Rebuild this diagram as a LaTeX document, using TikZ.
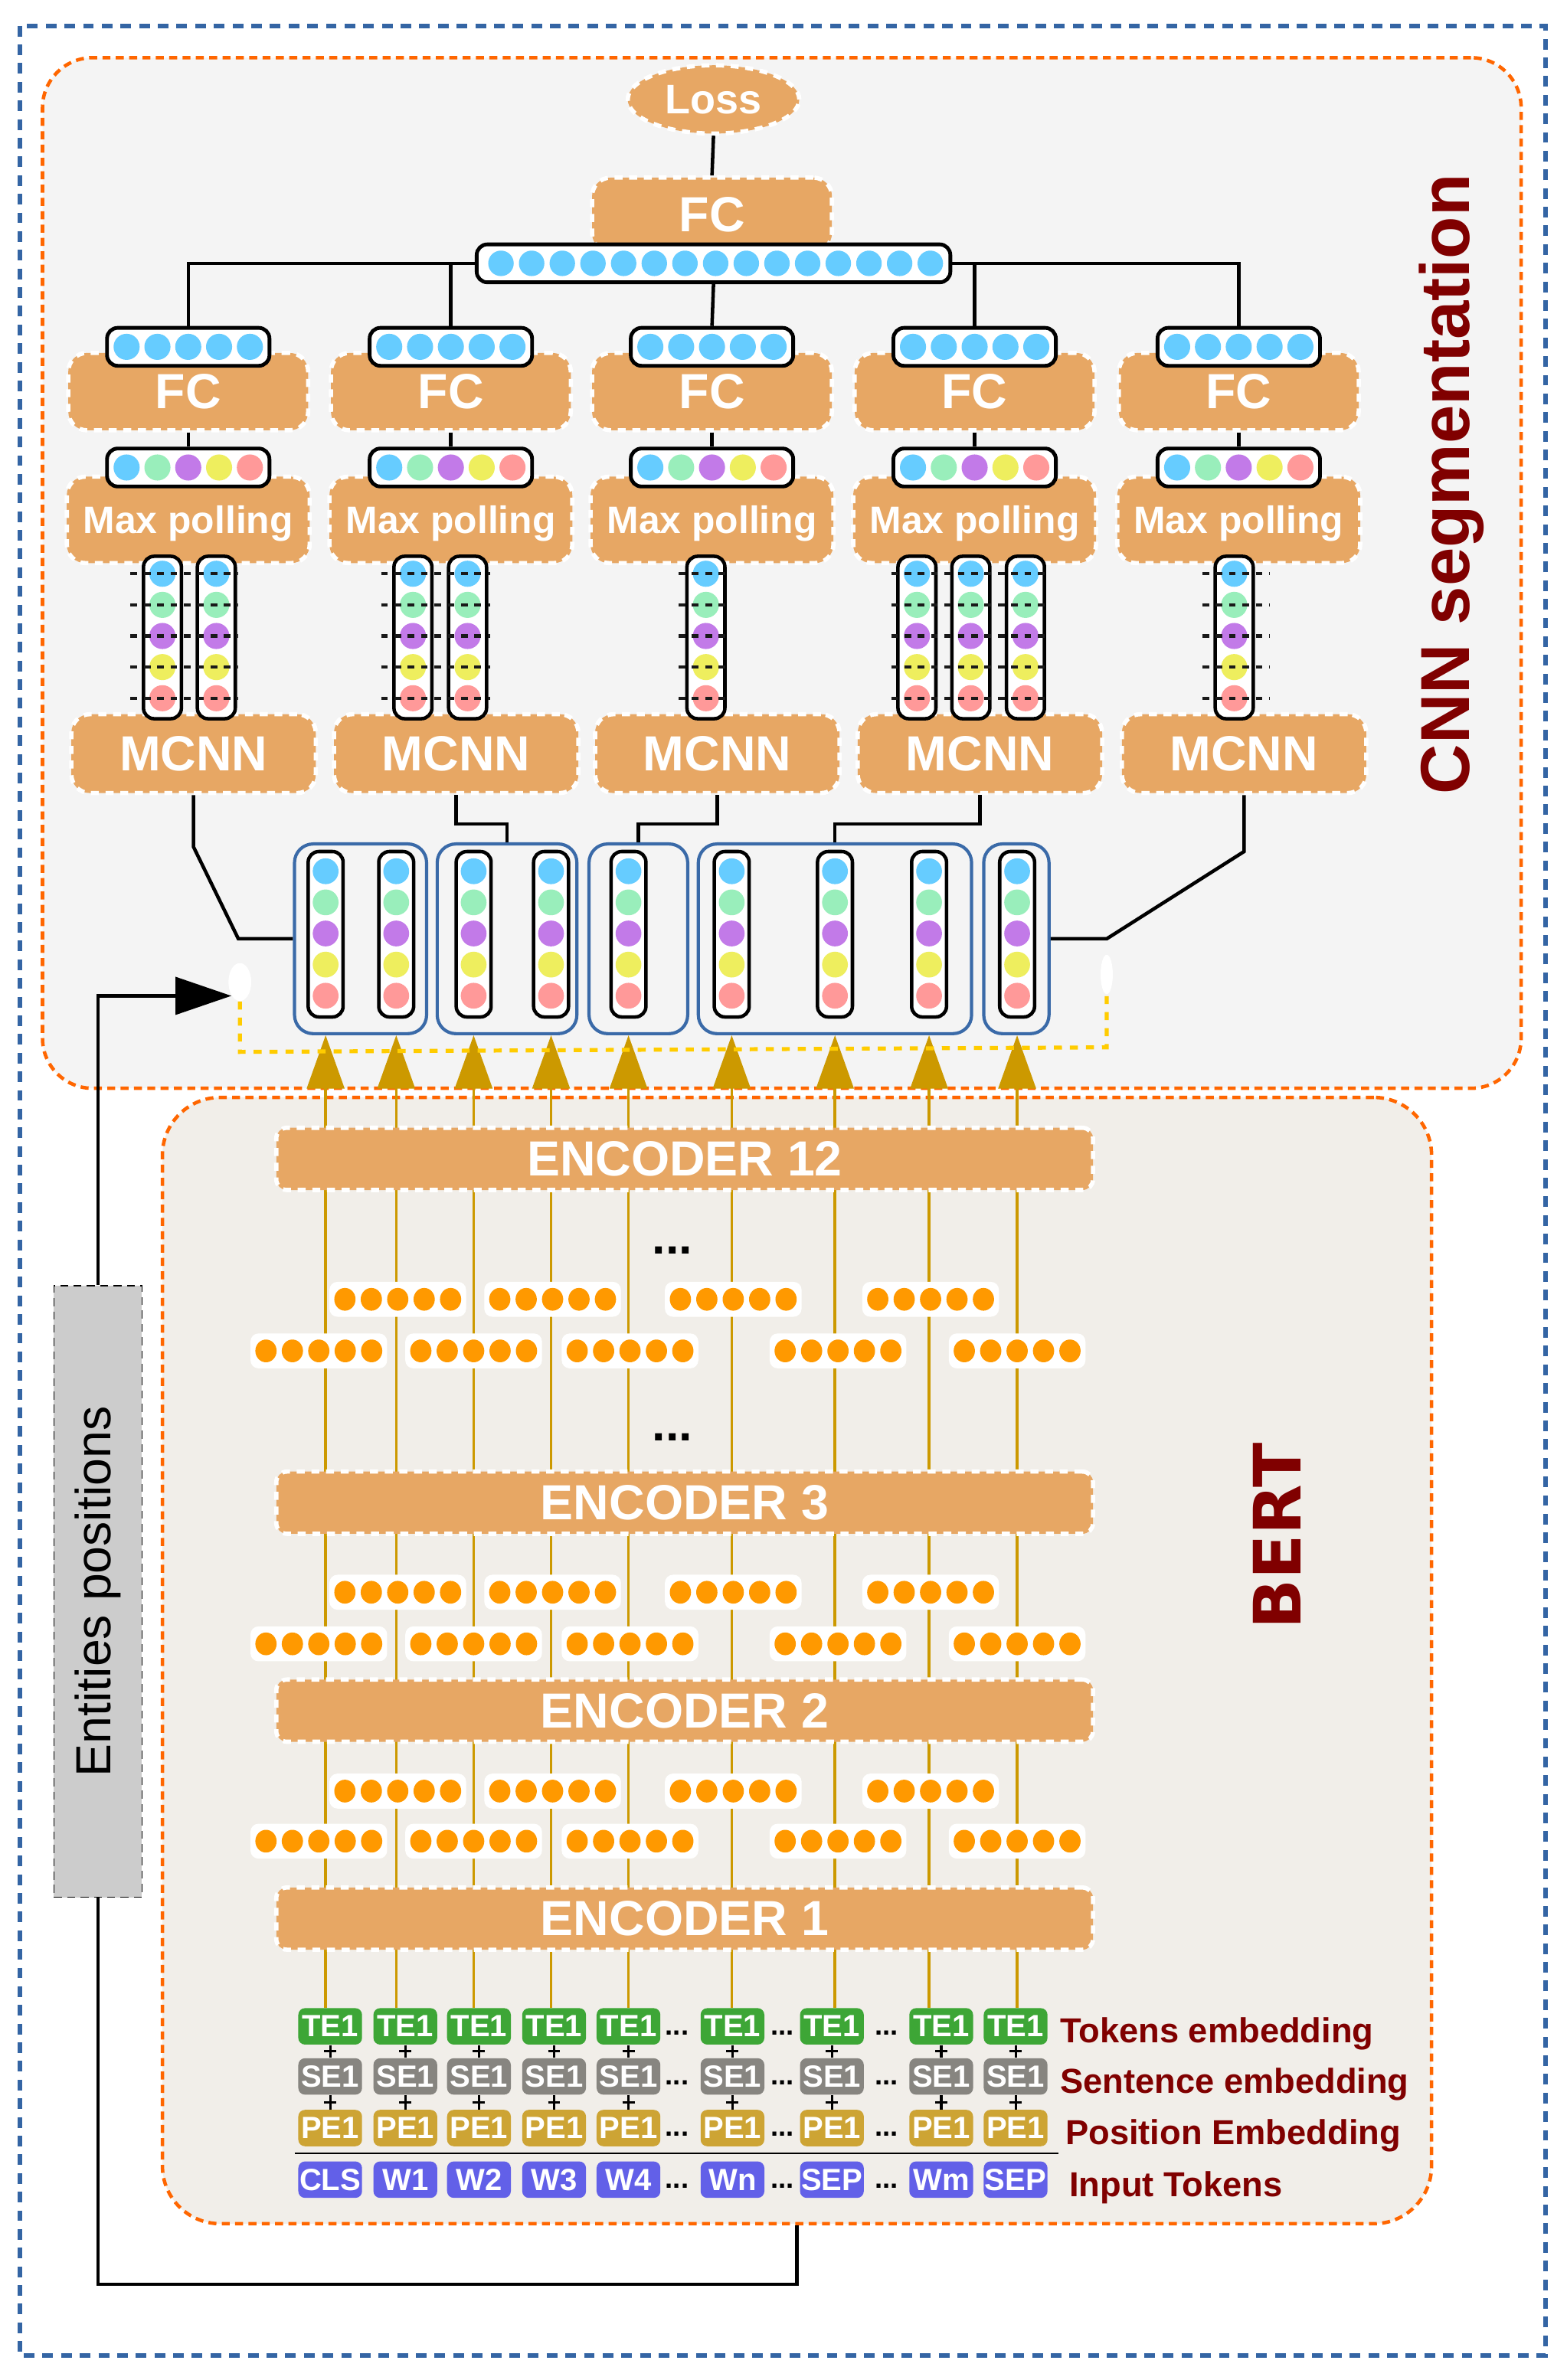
\documentclass[tikz,border=0pt]{standalone}
\usepackage{fontspec}
\setmainfont{Liberation Sans}
\newfontfamily\bertfont{DejaVu Sans}
\usetikzlibrary{arrows.meta,shapes.geometric,positioning}

\definecolor{boxorange}{RGB}{231,167,100}
\definecolor{frameblue}{RGB}{52,101,164}
\definecolor{frameorange}{RGB}{255,102,0}
\definecolor{cnnbg}{RGB}{244,244,244}
\definecolor{bertbg}{RGB}{241,238,233}
\definecolor{segblue}{RGB}{58,106,168}
\definecolor{dotblue}{RGB}{102,204,255}
\definecolor{dotgreen}{RGB}{153,238,187}
\definecolor{dotpurple}{RGB}{194,122,232}
\definecolor{dotyellow}{RGB}{238,238,94}
\definecolor{dotpink}{RGB}{255,153,153}
\definecolor{dotorange}{RGB}{255,153,0}
\definecolor{arrowgold}{RGB}{204,153,0}
\definecolor{yellowdash}{RGB}{255,204,0}
\definecolor{tegreen}{RGB}{61,166,54}
\definecolor{segray}{RGB}{135,133,128}
\definecolor{pegold}{RGB}{205,164,52}
\definecolor{tokblue}{RGB}{98,96,232}
\definecolor{darkred}{RGB}{128,0,0}

\newcommand{\fcfont}{\fontsize{18.5}{18.5}\selectfont\bfseries}

\tikzset{
  opbox/.style={draw=white, fill=boxorange, line width=1.6pt, dash pattern=on 3pt off 2.5pt, rounded corners=7pt, text=white, inner sep=0pt},
  encbox/.style={opbox, rounded corners=4pt, minimum width=538*0.2mm, minimum height=41*0.2mm, font=\fcfont},
  vecbar/.style={draw=black, fill=white, line width=1.4pt, rounded corners=4pt, inner sep=0pt},
  colbar/.style={draw=black, fill=white, line width=1.3pt, rounded corners=4pt, inner sep=0pt},
  segbox/.style={draw=segblue, line width=1.2pt, rounded corners=7pt, inner sep=0pt, minimum height=125*0.2mm},
  dotvec/.style={fill=white, rounded corners=3pt, inner sep=0pt, minimum width=90*0.2mm, minimum height=23*0.2mm},
  tok/.style={rounded corners=2.5pt, inner sep=0pt, minimum width=42*0.2mm, minimum height=24*0.2mm, text=white, font=\fontsize{11.5}{11.5}\selectfont\bfseries},
  rowlabel/.style={text=darkred, font=\fontsize{13}{13}\selectfont\bfseries, anchor=west, inner sep=0pt},
  link/.style={draw=black, line width=1.3pt},
  goldarrow/.style={draw=arrowgold, line width=1pt, -{Triangle[length=20pt,width=14pt]}},
  convdash/.style={draw=black!90, line width=1.2pt, dash pattern=on 2.5pt off 2.5pt},
  skip/.style={font=\fontsize{10.5}{10.5}\selectfont\bfseries, inner sep=0pt, anchor=base},
}

\begin{document}
\begin{tikzpicture}[x=0.2mm,y=-0.2mm]
\useasboundingbox[fill=white] (0,0) rectangle (1032,1568);

% outer frame and the two stages
\draw[frameblue, line width=1.7pt, dash pattern=on 4pt off 3pt] (13,17) rectangle (1018,1552);
\node[draw=frameorange, fill=cnnbg, line width=1.3pt, dash pattern=on 3pt off 2pt, rounded corners=6.6mm, minimum width=974*0.2mm, minimum height=679*0.2mm, inner sep=0pt] (cnn) at (515,377.5) {};
\node[draw=frameorange, fill=bertbg, line width=1.3pt, dash pattern=on 3pt off 2pt, rounded corners=7.6mm, minimum width=836*0.2mm, minimum height=742*0.2mm, inner sep=0pt] (bert) at (525,1094) {};
\node[rotate=90, text=darkred, font=\fontsize{26}{26}\selectfont\bfseries] (cnnlabel) at (956,319) {CNN segmentation};
\node[rotate=90, text=darkred, font=\bertfont\fontsize{24.5}{24.5}\selectfont\bfseries] (bertlabel) at (841,1012) {BERT};

% entities positions
\node[draw=black, fill=black!20, line width=0.4pt, densely dashed, minimum width=58*0.2mm, minimum height=403*0.2mm, inner sep=0pt] (ent) at (64.5,1048.5) {};
\node[rotate=90, font=\fontsize{18.5}{18.5}\selectfont] (entlabel) at (ent.center) {Entities positions};
\node[ellipse, fill=white, minimum width=15*0.2mm, minimum height=25*0.2mm, inner sep=0pt] (lend) at (158,647) {};
\node[ellipse, fill=white, minimum width=8*0.2mm, minimum height=26*0.2mm, inner sep=0pt] (rend) at (729,642) {};
\coordinate (entback) at (525,1505);
\draw[link, -{Triangle[length=21pt,width=14pt]}] (ent.north) |- (lend.south west);
\draw[link] (ent.south) |- (entback) -- (bert.south);

% loss and top FC
\node[opbox, ellipse, minimum width=113*0.2mm, minimum height=45*0.2mm, font=\fontsize{15.5}{15.5}\selectfont\bfseries] (loss) at (470,65.5) {Loss};
\node[opbox, minimum width=158*0.2mm, minimum height=49*0.2mm, font=\fcfont] (fctop) at (469,141.5) {FC};
\node[vecbar, minimum width=312*0.2mm, minimum height=25*0.2mm] (fcbar) at (470,173.5) {};
\foreach \k in {0,...,14} \fill[dotblue] (330+20.2*\k,173.5) circle[radius=1.68mm];
\draw[link] (loss.south) -- (fctop.north);

% five branches
\foreach \c [count=\i] in {124,297,469,642,816} {
  \node[opbox, minimum width=158*0.2mm, minimum height=51*0.2mm, font=\fcfont] (fc\i) at (\c,258) {FC};
  \node[vecbar, minimum width=107*0.2mm, minimum height=25*0.2mm] (fv\i) at (\c,228.5) {};
  \foreach \k in {0,...,4} \fill[dotblue] (\c-40.6+20.3*\k,228.5) circle[radius=1.72mm];
  \node[opbox, minimum width=160*0.2mm, minimum height=57*0.2mm, text depth=0pt, font=\fontsize{14.3}{14.3}\selectfont\bfseries] (mp\i) at (\c,342.5) {Max polling};
  \node[vecbar, minimum width=107*0.2mm, minimum height=25*0.2mm] (mv\i) at (\c,308) {};
  \foreach \col [count=\k from 0] in {dotblue,dotgreen,dotpurple,dotyellow,dotpink}
    \fill[\col] (\c-40.6+20.3*\k,308) circle[radius=1.72mm];
  \node[opbox, minimum width=161*0.2mm, minimum height=52*0.2mm, font=\fcfont] (mc\i) at (\c+3.5,496.5) {MCNN};
  \draw[link] (fc\i.south) -- (mv\i.north);
}
\draw[link] (fv1.north) |- (fcbar.west);
\draw[link] (fv2.north) |- (fcbar.west);
\draw[link] (fcbar.south) -- (fv3.north);
\draw[link] (fv4.north) |- (fcbar.east);
\draw[link] (fv5.north) |- (fcbar.east);

% convolution windows
\foreach \x [count=\i] in {107,142.5,272,308,465,604,639.5,675.5,813} {
  \node[colbar, minimum width=25*0.2mm, minimum height=107*0.2mm] (cv\i) at (\x,420) {};
  \foreach \col/\y in {dotblue/378,dotgreen/398.5,dotpurple/419,dotyellow/439.5,dotpink/460}
    \fill[\col] (\x,\y) circle[radius=1.72mm];
}
\foreach \a/\b in {86/157,251/323,447/481,587/691,792/836}
  \foreach \y in {378,398.5,419,439.5,460}
    \draw[convdash] (\a,\y) -- (\b,\y);

% token segments
\foreach \a/\b [count=\i] in {194/281,288/380,388/453,460/640,648/691}
  \node[segbox, minimum width={(\b-\a)*0.2mm}] (seg\i) at ({(\a+\b)/2},618.5) {};
\foreach \x [count=\i] in {214.5,261,312,363,414,482,550,612,670} {
  \node[colbar, minimum width=23*0.2mm, minimum height=109*0.2mm] (tc\i) at (\x,615.5) {};
  \foreach \col/\y in {dotblue/574,dotgreen/594.5,dotpurple/615,dotyellow/635.5,dotpink/656}
    \fill[\col] (\x,\y) circle[radius=1.7mm];
}
\draw[link] (mc1.south) -- (127.5,558) -- (157,618.5) -- (seg1.west);
\draw[link] (mc2.south) -- ++(0,19) -| (seg2.north);
\draw[link] (mc3.south) -- ++(0,19) -| (seg3.north);
\draw[link] (mc4.south) -- ++(0,19) -| (seg4.north);
\draw[link] (mc5.south) -- (819.5,561) -- (729,618.5) -- (seg5.east);

% input embeddings
\foreach \x/\w [count=\i] in {217.5/CLS,267/W1,315.5/W2,365/W3,414/W4,482.5/Wn,548/SEP,620/Wm,669/SEP} {
  \node[tok, fill=tegreen] (te\i) at (\x,1335) {TE1};
  \node[tok, fill=segray] (se\i) at (\x,1368) {SE1};
  \node[tok, fill=pegold] (pe\i) at (\x,1402) {PE1};
  \node[tok, fill=tokblue] (in\i) at (\x,1436) {\w};
  \draw[line width=0.9pt] (te\i.south) -- (se\i.north);
  \draw[line width=0.9pt] (se\i.south) -- (pe\i.north);
  \draw[line width=0.9pt] (\x-4,1351.5) -- (\x+4,1351.5);
  \draw[line width=0.9pt] (\x-4,1385) -- (\x+4,1385);
}
\foreach \x [count=\i] in {446,515.5,584}
  \foreach \y [count=\j] in {1335,1368,1402,1436}
    \node[skip] (gap\i\j) at (\x,\y+5.5) {...};
\draw[line width=0.6pt] (194,1418.5) -- (697,1418.5);
\node[rowlabel] (telabel) at (698,1340) {Tokens embedding};
\node[rowlabel] (selabel) at (698,1373) {Sentence embedding};
\node[rowlabel] (pelabel) at (701.5,1407) {Position Embedding};
\node[rowlabel] (inlabel) at (704,1441) {Input Tokens};

% hidden states going up
\foreach \i in {1,...,9}
  \draw[goldarrow] (tc\i.south |- te\i.north) -- (tc\i.south |- seg1.south);

% encoder stack
\node[encbox] (enc12) at (451,763.5) {ENCODER 12};
\node[encbox] (enc3) at (451,990) {ENCODER 3};
\node[encbox] (enc2) at (451,1127) {ENCODER 2};
\node[encbox] (enc1) at (451,1264) {ENCODER 1};
\node[font=\fontsize{18}{18}\selectfont\bfseries, anchor=base, inner sep=0pt] (layergap1) at (443,826) {...};
\node[font=\fontsize{18}{18}\selectfont\bfseries, anchor=base, inner sep=0pt] (layergap2) at (443,949) {...};
\foreach \ya/\yb [count=\r] in {856/890,1049/1083,1180/1213} {
  \foreach \x [count=\j] in {262,364,483,613} {
    \node[dotvec] (va\r\j) at (\x,\ya) {};
    \foreach \k in {-2,...,2} \fill[dotorange] (\x+17.4*\k,\ya) ellipse[x radius=1.4mm, y radius=1.5mm];
  }
  \foreach \x [count=\j] in {210,312,415,552,670} {
    \node[dotvec] (vb\r\j) at (\x,\yb) {};
    \foreach \k in {-2,...,2} \fill[dotorange] (\x+17.4*\k,\yb) ellipse[x radius=1.4mm, y radius=1.5mm];
  }
}

% entity marker line
\draw[yellowdash, line width=1.5pt, dash pattern=on 3pt off 3pt] (lend.south) -- (158,693) -- (729,690) -- (rend.south);
\end{tikzpicture}
\end{document}
